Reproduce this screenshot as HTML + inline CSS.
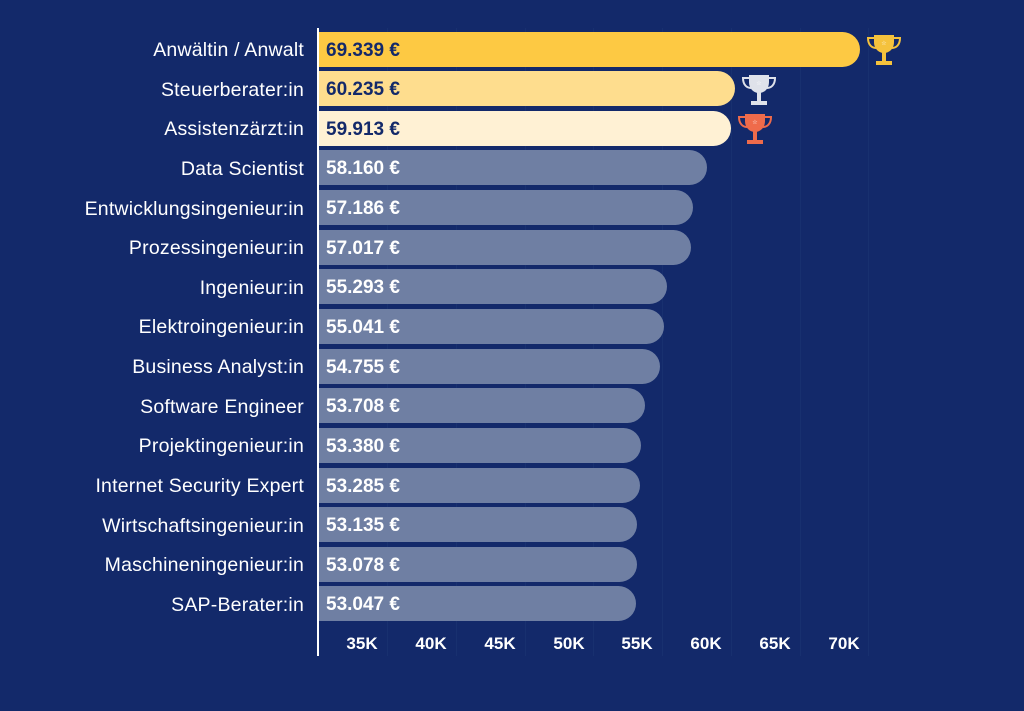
<!DOCTYPE html>
<html><head><meta charset="utf-8"><style>
body{margin:0;width:1024px;height:711px;background:#13296a;position:relative;overflow:hidden;font-family:"Liberation Sans",sans-serif}
.l{position:absolute;right:720px;color:#fff;font-size:19.5px;line-height:22px;white-space:nowrap;letter-spacing:0.2px}
.b{position:absolute;left:318px;height:35px;border-radius:0 18px 18px 0;background:#6f7fa3}
.v{position:absolute;left:326px;color:#fff;font-size:19px;line-height:22px;white-space:nowrap;font-weight:bold}
.g{position:absolute;top:28px;height:628px;width:1px;background:#18306f}
.t{position:absolute;top:634px;width:50px;text-align:center;color:#fff;font-size:17px;font-weight:bold}
</style></head><body>
<div class="g" style="left:387px"></div><div class="g" style="left:456px"></div><div class="g" style="left:525px"></div><div class="g" style="left:593px"></div><div class="g" style="left:662px"></div><div class="g" style="left:731px"></div><div class="g" style="left:800px"></div><div class="g" style="left:868px"></div>
<div id="c"></div>
<div style="position:absolute;left:317px;top:28px;width:2px;height:628px;background:#fff"></div>
<div class="t" style="left:337px">35K</div><div class="t" style="left:406px">40K</div><div class="t" style="left:475px">45K</div><div class="t" style="left:544px">50K</div><div class="t" style="left:612px">55K</div><div class="t" style="left:681px">60K</div><div class="t" style="left:750px">65K</div><div class="t" style="left:819px">70K</div>
<script>
var d=[["Anwältin / Anwalt",69339,"69.339 €"],["Steuerberater:in",60235,"60.235 €"],["Assistenzärzt:in",59913,"59.913 €"],["Data Scientist",58160,"58.160 €"],["Entwicklungsingenieur:in",57186,"57.186 €"],["Prozessingenieur:in",57017,"57.017 €"],["Ingenieur:in",55293,"55.293 €"],["Elektroingenieur:in",55041,"55.041 €"],["Business Analyst:in",54755,"54.755 €"],["Software Engineer",53708,"53.708 €"],["Projektingenieur:in",53380,"53.380 €"],["Internet Security Expert",53285,"53.285 €"],["Wirtschaftsingenieur:in",53135,"53.135 €"],["Maschineningenieur:in",53078,"53.078 €"],["SAP-Berater:in",53047,"53.047 €"]];
var cols=["#fdc943","#fedd8e","#fff1d4"],tc=["#f5c23d","#dfe2ea","#ef6b4b"],h="";
d.forEach(function(r,i){var cy=49+39.64*i,w=(r[1]-29900)*0.01375;
h+='<div class="l" style="top:'+(cy-10)+'px">'+r[0]+'</div>';
h+='<div class="b" style="top:'+(cy-17.5)+'px;width:'+w+'px'+(i<3?';background:'+cols[i]:'')+'"></div>';
h+='<div class="v" style="top:'+(cy-9.5)+'px'+(i<3?';color:#13296a':'')+'">'+r[2]+'</div>';
if(i<3){var x=318+w+4;h+='<svg style="position:absolute;left:'+x+'px;top:'+(cy-16)+'px" width="40" height="34" viewBox="0 0 38 34"><path d="M9 2h20v7c0 7-5 11-10 11S9 16 9 9z" fill="'+tc[i]+'"/><path d="M9 5H3c0 7 4 10 8 10M29 5h6c0 7-4 10-8 10" stroke="'+tc[i]+'" stroke-width="2" fill="none"/><rect x="17" y="19" width="4" height="9" fill="'+tc[i]+'"/><rect x="11" y="28" width="16" height="4" fill="'+tc[i]+'"/><text x="19" y="12" font-size="6" text-anchor="middle" fill="#fff">☆</text></svg>';}
});
document.getElementById("c").innerHTML=h;
</script>
</body></html>
